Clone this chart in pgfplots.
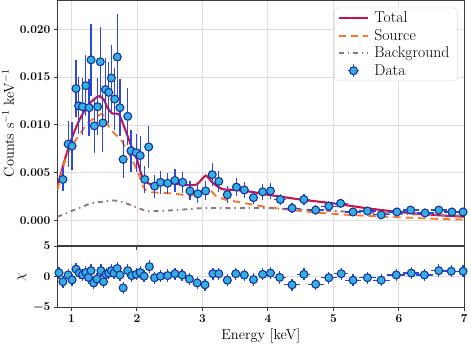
\documentclass[border=0pt]{standalone}
\usepackage{pgfplots}
\usepackage{pgfplotstable}
\pgfplotsset{compat=1.18}

\definecolor{totalc}{RGB}{200,18,72}
\definecolor{srcc}{RGB}{250,120,40}
\definecolor{bkgc}{RGB}{150,115,130}
\definecolor{errc}{RGB}{45,72,225}
\definecolor{mfill}{RGB}{50,178,218}
\definecolor{medge}{RGB}{25,48,165}
\definecolor{gridc}{RGB}{222,222,222}
\definecolor{spinec}{RGB}{60,60,60}

% spectrum: energy, half bin width, rate, error
\pgfplotstableread{
x ex y ey
0.87 0.035 0.0043 0.0012
0.95 0.03 0.0080 0.0024
1.01 0.03 0.0078 0.0025
1.07 0.025 0.0138 0.0030
1.11 0.025 0.0120 0.0030
1.17 0.025 0.0119 0.0030
1.22 0.025 0.0141 0.0032
1.27 0.02 0.0118 0.0030
1.30 0.02 0.0168 0.0038
1.35 0.025 0.0099 0.0028
1.40 0.025 0.0119 0.0030
1.44 0.02 0.0166 0.0036
1.48 0.02 0.0102 0.0030
1.52 0.02 0.0137 0.0033
1.57 0.025 0.0134 0.0032
1.61 0.02 0.0149 0.0035
1.66 0.025 0.0127 0.0032
1.70 0.02 0.0171 0.0045
1.74 0.02 0.0118 0.0030
1.79 0.03 0.0064 0.0020
1.86 0.035 0.0109 0.0030
1.91 0.03 0.0073 0.0022
1.99 0.035 0.0071 0.0020
2.05 0.03 0.0068 0.0020
2.12 0.035 0.0043 0.0014
2.18 0.03 0.0077 0.0022
2.27 0.045 0.0036 0.0012
2.36 0.05 0.0040 0.0012
2.47 0.055 0.0039 0.0011
2.58 0.055 0.0042 0.0012
2.70 0.055 0.0040 0.0011
2.81 0.055 0.0031 0.0010
2.93 0.06 0.0028 0.0010
3.05 0.06 0.0031 0.0010
3.15 0.05 0.0048 0.0012
3.25 0.05 0.0041 0.0011
3.38 0.07 0.0027 0.0009
3.52 0.07 0.0035 0.0009
3.64 0.06 0.0032 0.0008
3.78 0.07 0.0024 0.0007
3.92 0.07 0.0030 0.0008
4.04 0.07 0.0031 0.0008
4.19 0.09 0.0022 0.0006
4.37 0.12 0.0013 0.0005
4.55 0.1 0.0022 0.0006
4.73 0.12 0.0011 0.0005
4.93 0.12 0.0015 0.0005
5.11 0.11 0.0018 0.0005
5.30 0.12 0.0009 0.0004
5.52 0.13 0.0010 0.0004
5.73 0.13 0.0006 0.0004
5.97 0.14 0.0009 0.0004
6.18 0.12 0.0011 0.0004
6.40 0.13 0.0008 0.0004
6.61 0.12 0.0011 0.0004
6.81 0.12 0.0009 0.0004
6.98 0.1 0.0009 0.0004
}\spec

% residuals (data - model) / error
\pgfplotstableread{
x ex y
0.81 0.03 0.65
0.87 0.035 -0.8
0.95 0.03 0.3
1.01 0.03 -0.5
1.07 0.025 1.25
1.12 0.025 0.6
1.17 0.025 0.3
1.22 0.025 0.7
1.26 0.02 -0.1
1.30 0.02 1.0
1.34 0.02 -1.0
1.39 0.025 -0.35
1.45 0.02 1.0
1.49 0.02 -0.8
1.53 0.02 0.4
1.57 0.02 0.6
1.61 0.02 1.0
1.65 0.02 0.6
1.70 0.02 1.35
1.74 0.02 0.3
1.79 0.03 -1.8
1.86 0.035 1.0
1.92 0.03 0.2
1.99 0.035 0.4
2.05 0.03 0.7
2.11 0.03 0.1
2.19 0.04 1.65
2.27 0.045 -0.15
2.36 0.05 0.1
2.47 0.055 0.2
2.58 0.055 0.5
2.69 0.055 0.3
2.80 0.055 -0.35
2.92 0.06 -1.0
3.04 0.06 -1.3
3.16 0.05 0.5
3.25 0.05 0.5
3.38 0.07 -0.55
3.51 0.07 0.5
3.64 0.06 0.3
3.78 0.07 -0.45
3.92 0.07 0.4
4.04 0.07 0.6
4.18 0.09 -0.1
4.37 0.12 -1.3
4.55 0.1 0.4
4.73 0.12 -1.2
4.93 0.12 -0.15
5.12 0.11 0.5
5.30 0.12 -0.55
5.52 0.13 -0.15
5.73 0.13 -0.55
5.96 0.14 0.3
6.19 0.12 0.6
6.39 0.13 0.3
6.61 0.12 1.0
6.80 0.12 0.9
6.98 0.1 0.9
}\resid

\pgfplotsset{
  panel/.style={
    scale only axis, width=410pt, xmin=0.785, xmax=7,
    xtick={1,2,3,4,5,6,7},
    tick align=outside, xtick pos=bottom, ytick pos=left,
    major tick length=3.5pt,
    grid=major, grid style={gridc, line width=0.8pt},
    axis line style={spinec, line width=1.1pt},
    tick style={spinec, line width=1pt},
    ticklabel style={font=\boldmath\fontsize{12.3}{14}\selectfont},
    label style={font=\fontsize{14.5}{16}\selectfont},
    ylabel style={inner xsep=0pt, inner ysep=2.2pt},
  },
  datapts/.style={errc, only marks, mark=*, mark size=4pt,
    mark options={fill=mfill, draw=medge, line width=1.1pt},
    error bars/x dir=both, error bars/x explicit, error bars/y dir=both,
    error bars/error bar style={errc, line width=1.25pt}, error bars/error mark=none},
}

\begin{document}
\begin{tikzpicture}
\begin{axis}[panel, name=top, height=247.3pt,
  ymin=-0.00266, ymax=0.0230,
  ytick={0,0.005,0.01,0.015,0.02},
  scaled y ticks=false,
  yticklabel style={/pgf/number format/.cd, fixed, fixed zerofill, precision=3},
  xticklabels={},
  ylabel={Counts s$^{-1}$ keV$^{-1}$},
  legend cell align=left,
  legend image code/.code={\draw[#1] (0pt,0pt) -- (30pt,0pt);},
  legend style={at={(0.9834,0.9705)}, anchor=north east, draw=gray!30, rounded corners=3pt,
    font=\fontsize{15.8}{18}\selectfont, inner xsep=3pt, inner ysep=2pt,
    row sep=1.2pt, nodes={inner xsep=5pt}},
]
\addplot[totalc, line width=2.1pt, smooth, tension=0.4] coordinates {
(0.785,0.0035) (0.90,0.0064) (1.00,0.0085) (1.10,0.0102) (1.225,0.0118) (1.33,0.0126)
(1.425,0.0130) (1.50,0.0126) (1.55,0.0118) (1.625,0.0112) (1.725,0.0111) (1.80,0.0099)
(1.925,0.0076) (2.00,0.0064) (2.075,0.0047) (2.15,0.0040) (2.20,0.0038) (2.35,0.0039)
(2.50,0.0039) (2.65,0.0038) (2.80,0.0037) (2.92,0.0038) (3.05,0.0047) (3.15,0.0040)
(3.30,0.0033) (3.50,0.0032) (3.75,0.0030) (4.00,0.0027) (4.50,0.0022) (5.00,0.0018)
(5.50,0.0013) (6.00,0.0009) (6.50,0.0006) (7.00,0.0004)};
\addlegendentry{Total}
\addplot[srcc, line width=1.9pt, dash pattern=on 7.5pt off 5pt, smooth, tension=0.4] coordinates {
(0.785,0.0032) (0.90,0.0062) (1.00,0.0078) (1.075,0.0085) (1.25,0.0102) (1.38,0.0108)
(1.475,0.0111) (1.60,0.0095) (1.75,0.0085) (1.90,0.0067) (2.02,0.0050) (2.10,0.0035)
(2.18,0.0030) (2.40,0.0029) (2.60,0.0028) (2.80,0.0026) (2.95,0.0029) (3.10,0.0033)
(3.20,0.0026) (3.35,0.0022) (3.50,0.0020) (4.00,0.0014) (4.50,0.0010) (5.00,0.0007)
(5.50,0.0005) (6.00,0.00035) (6.50,0.0002) (7.00,0.0001)};
\addlegendentry{Source}
\addplot[bkgc, line width=1.9pt, dash pattern=on 5pt off 4pt on 1.5pt off 4pt, smooth, tension=0.4] coordinates {
(0.785,0.0004) (0.90,0.0007) (1.00,0.0010) (1.15,0.0014) (1.30,0.0018) (1.50,0.0020)
(1.65,0.0021) (1.80,0.0019) (1.95,0.0015) (2.15,0.0010) (2.30,0.0010) (2.60,0.0011)
(3.00,0.0013) (3.50,0.0013) (4.00,0.0013) (5.00,0.0010) (6.00,0.0007) (7.00,0.0005)};
\addlegendentry{Background}
\addplot[datapts, error bars/y explicit,
  legend image code/.code={
    \draw[errc, line width=1.2pt] (15pt,-6.5pt) -- (15pt,6.5pt) (9pt,0pt) -- (21pt,0pt);
    \draw[fill=mfill, draw=medge, line width=1.1pt] (15pt,0pt) circle (4pt);}]
  table[x=x, y=y, x error=ex, y error=ey] {\spec};
\addlegendentry{Data}
\end{axis}

\begin{axis}[panel, at={(top.south west)}, anchor=north west, height=62pt,
  ymin=-5, ymax=5, ytick={-5,0,5},
  xlabel={Energy [keV]}, ylabel={$\chi$},
  ylabel style={inner sep=3pt},
]
\addplot[datapts, error bars/y fixed=1]
  table[x=x, y=y, x error=ex] {\resid};
\end{axis}
\end{tikzpicture}
\end{document}
